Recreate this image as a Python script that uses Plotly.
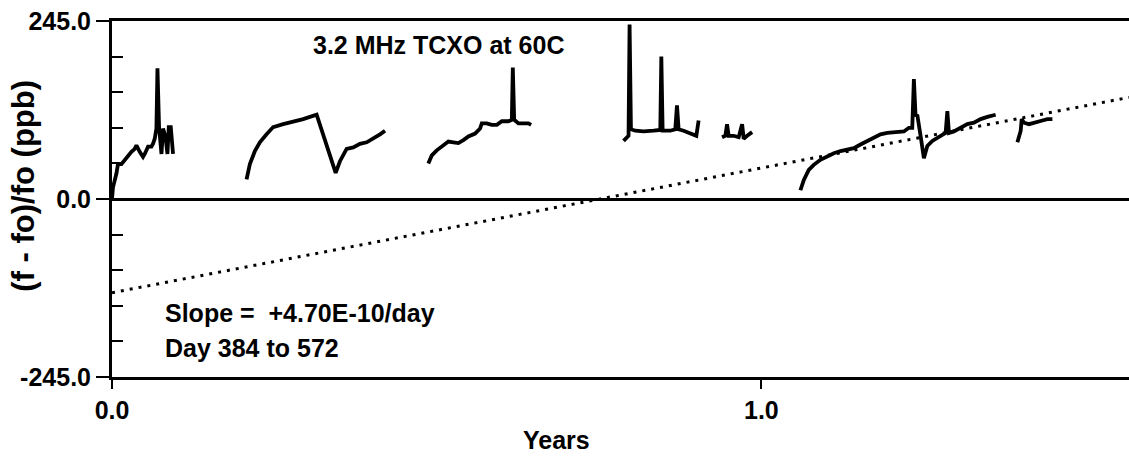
import plotly.graph_objects as go

# Frequency offset record of a 3.2 MHz TCXO held at 60C.
# Each run is a separate list pair: time in years, offset in ppb.
run1_years = [0.000, 0.0015, 0.0068, 0.0092, 0.0145, 0.0196, 0.0247, 0.0299, 0.0350, 0.0376,
              0.0427, 0.0478, 0.0504, 0.0555, 0.0607, 0.0632, 0.0658, 0.0684, 0.0700, 0.0725,
              0.0762, 0.0786, 0.0823, 0.0854, 0.0874, 0.0905, 0.0940]
run1_ppb = [0, 16, 35, 48, 48, 54, 58, 65, 69, 74,
            65, 58, 62, 72, 72, 76, 83, 97, 180, 99,
            62, 97, 86, 62, 99, 99, 62]

run2_years = [0.2072, 0.2123, 0.2200, 0.2277, 0.2380, 0.2482, 0.2636, 0.2790, 0.2944, 0.3151,
              0.3444, 0.3510, 0.3613, 0.3715, 0.3818, 0.3922, 0.4023, 0.4127, 0.4204]
run2_ppb = [27, 48, 66, 78, 89, 99, 103, 106, 110, 116,
            36, 52, 69, 71, 76, 78, 83, 89, 94]

run3_years = [0.4871, 0.4924, 0.5001, 0.5103, 0.5180, 0.5257, 0.5334, 0.5411, 0.5488, 0.5591,
              0.5668, 0.5694, 0.5771, 0.5849, 0.5926, 0.6003, 0.6105, 0.6157, 0.6172, 0.6193,
              0.6259, 0.6336, 0.6413, 0.6454]
run3_ppb = [49, 60, 67, 74, 79, 78, 77, 81, 86, 90,
            97, 104, 104, 102, 102, 107, 107, 109, 181, 109,
            104, 104, 104, 102]

run4_years = [0.7877, 0.7954, 0.7970, 0.7991, 0.8058, 0.8186, 0.8340, 0.8443, 0.8459, 0.8479,
              0.8597, 0.8674, 0.8700, 0.8725, 0.8802, 0.8906, 0.8998, 0.9033]
run4_ppb = [80, 87, 240, 96, 94, 93, 94, 95, 196, 94,
            94, 96, 129, 96, 94, 90, 87, 108]

run5_years = [0.9394, 0.9445, 0.9471, 0.9496, 0.9573, 0.9650, 0.9703, 0.9727, 0.9780, 0.9857]
run5_ppb = [85, 87, 103, 87, 87, 85, 103, 83, 87, 92]

run6_years = [1.0601, 1.0652, 1.0729, 1.0806, 1.0909, 1.1013, 1.1115, 1.1218, 1.1321, 1.1423,
              1.1526, 1.1629, 1.1731, 1.1834, 1.1938, 1.2092, 1.2194, 1.2271, 1.2323, 1.2348,
              1.2374, 1.2400, 1.2425, 1.2451, 1.2502, 1.2555, 1.2632, 1.2709, 1.2786, 1.2837,
              1.2863, 1.2888, 1.2964, 1.3068, 1.3171, 1.3273, 1.3376, 1.3480, 1.3607]
run6_ppb = [12, 26, 40, 47, 54, 59, 63, 66, 68, 70,
            75, 80, 84, 89, 91, 92, 93, 98, 98, 165,
            114, 116, 105, 87, 56, 73, 80, 84, 89, 91,
            121, 91, 93, 98, 103, 105, 110, 113, 116]

run7_years = [1.3942, 1.3993, 1.4008, 1.4044, 1.4121, 1.4224, 1.4327, 1.4404, 1.4481]
run7_ppb = [78, 94, 110, 105, 103, 105, 108, 110, 110]

runs = [(run1_years, run1_ppb), (run2_years, run2_ppb), (run3_years, run3_ppb),
        (run4_years, run4_ppb), (run5_years, run5_ppb), (run6_years, run6_ppb),
        (run7_years, run7_ppb)]

# Linear aging fit (days 384 to 572), drawn across the whole record
fit_slope_ppb_per_day = 0.470   # +4.70E-10/day
fit_offset_ppb = -129.0
last_day = 572
days_per_year = 365.25

y_ticks = [-245, 0, 245]
y_tick_text = ["-245.0", "0.0", "245.0"]
y_minor = [-196, -147, -98, -49, 49, 98, 147, 196]
x_ticks = [0.0, 1.0]
x_tick_text = ["0.0", "1.0"]

SANS = "Liberation Sans, Arial, Helvetica, sans-serif"
LABEL_FONT = dict(family=SANS, size=25, weight="bold", color="black")

fig = go.Figure()

fit_days = [0, last_day]
fig.add_trace(go.Scatter(
    x=[d / days_per_year for d in fit_days],
    y=[fit_offset_ppb + fit_slope_ppb_per_day * d for d in fit_days],
    mode="lines",
    line=dict(color="black", width=3, dash="3px,6px"),
    hoverinfo="skip", showlegend=False,
))

for yrs, ppb in runs:
    fig.add_trace(go.Scatter(
        x=yrs, y=ppb, mode="lines",
        line=dict(color="black", width=3.8),
        showlegend=False,
    ))

fig.update_layout(
    width=1129, height=461,
    margin=dict(l=112, r=0, t=21, b=84),
    paper_bgcolor="white", plot_bgcolor="white",
    font=dict(family=SANS, color="black", size=25),
    xaxis=dict(
        range=[0, last_day / days_per_year],
        showgrid=False, zeroline=False,
        showline=True, linecolor="black", linewidth=3, mirror=True,
        tickmode="array", tickvals=x_ticks, ticktext=x_tick_text,
        ticks="outside", ticklen=9, tickwidth=1.5, tickcolor="black",
        tickfont=LABEL_FONT,
    ),
    yaxis=dict(
        range=[-245, 245],
        showgrid=False,
        zeroline=True, zerolinecolor="black", zerolinewidth=2.5,
        showline=True, linecolor="black", linewidth=3,
        tickmode="array", tickvals=y_ticks, ticktext=y_tick_text,
        ticks="outside", ticklen=13, tickwidth=2, tickcolor="black",
        tickfont=LABEL_FONT,
        minor=dict(tickmode="array", tickvals=y_minor, ticks="inside",
                   ticklen=11, tickwidth=2, tickcolor="black", showgrid=False),
    ),
)

fig.add_annotation(text="3.2 MHz TCXO at 60C", xref="paper", yref="paper",
                   x=0.3206, y=0.9326, xanchor="center", yanchor="middle",
                   showarrow=False, font=LABEL_FONT)
fig.add_annotation(text="Slope =  +4.70E-10/day", xref="paper", yref="paper",
                   x=0.05, y=0.181, xanchor="left", yanchor="middle",
                   showarrow=False, font=LABEL_FONT)
fig.add_annotation(text="Day 384 to 572", xref="paper", yref="paper",
                   x=0.05, y=0.082, xanchor="left", yanchor="middle",
                   showarrow=False, font=LABEL_FONT)
fig.add_annotation(text="Years", xref="paper", yref="paper",
                   x=0.4366, y=-0.177, xanchor="center", yanchor="middle",
                   showarrow=False, font=LABEL_FONT)
fig.add_annotation(text="(f - fo)/fo (ppb)", xref="paper", yref="paper",
                   x=-0.087, y=0.536, xanchor="center", yanchor="middle",
                   textangle=-90, showarrow=False,
                   font=dict(family=SANS, size=31, weight="bold", color="black"))

fig.write_html("out.html")
